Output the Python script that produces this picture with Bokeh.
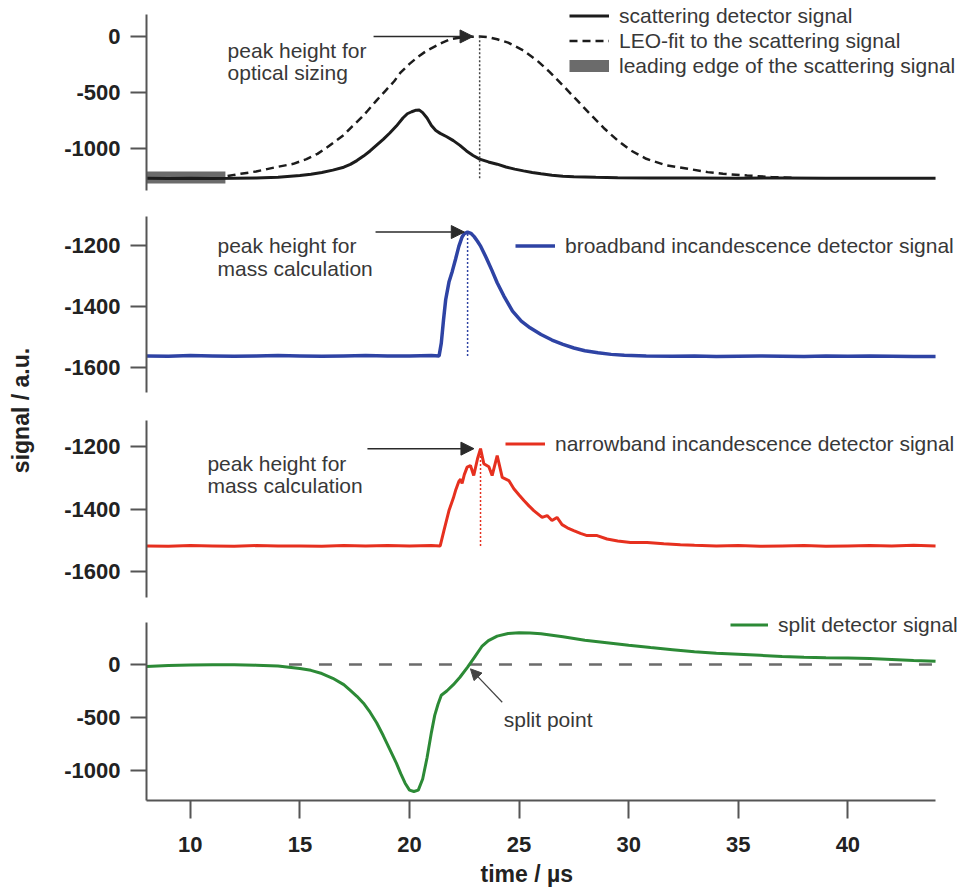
import numpy as np
from math import pi

from bokeh.plotting import figure
from bokeh.layouts import row, column
from bokeh.models import (Range1d, FixedTicker, Arrow, NormalHead, Legend, LegendItem, Label,
                          Title, PrintfTickFormatter)
from bokeh.embed import file_html
from bokeh.resources import INLINE

# ---------------------------------------------------------------- data
# time axis in microseconds, signals in arbitrary units

scatter_t = [8.0, 9.0, 10.0, 11.0, 12.0, 13.0, 14.0, 15.0, 15.5, 16.0, 16.5, 17.0, 17.3, 17.6,
             17.9, 18.2, 18.5, 18.8, 19.1, 19.4, 19.7, 19.9, 20.1, 20.3, 20.45, 20.6, 20.8,
             21.0, 21.2, 21.4, 21.7, 22.0, 22.3, 22.6, 22.9, 23.2, 23.6, 24.0, 24.4, 24.8,
             25.2, 25.6, 26.0, 26.5, 27.0, 27.5, 28.5, 29.5, 31.0, 33.0, 35.0, 37.0, 39.0,
             41.0, 43.0, 44.0]
scatter_v = [-1266, -1267, -1266, -1267, -1266, -1264, -1256, -1242, -1230, -1214, -1193,
             -1167, -1142, -1108, -1068, -1022, -970, -918, -862, -800, -728, -690, -672,
             -658, -657, -680, -728, -795, -840, -865, -895, -930, -972, -1022, -1062, -1095,
             -1120, -1140, -1165, -1184, -1200, -1214, -1226, -1238, -1247, -1252, -1257,
             -1261, -1263, -1264, -1265, -1264, -1265, -1266, -1265, -1266]

leo_t = [11.7, 12.3, 13.0, 13.5, 14.0, 14.7, 15.3, 15.8, 16.2, 16.6, 17.0, 17.4, 17.8, 18.1,
         18.5, 18.9, 19.3, 19.6, 20.0, 20.4, 20.8, 21.1, 21.5, 21.9, 22.5, 23.2, 23.6, 24.0,
         24.5, 25.2, 25.9, 26.4, 27.0, 27.65, 28.3, 28.9, 29.5, 30.1, 30.8, 31.7, 32.7, 33.6,
         34.3, 35.4, 36.5, 37.5]
leo_v = [-1245, -1226, -1205, -1184, -1163, -1137, -1095, -1048, -995, -938, -880, -800,
         -725, -661, -570, -485, -400, -320, -245, -180, -125, -95, -55, -22, -4, 0, -6, -25,
         -55, -125, -229, -318, -438, -571, -705, -824, -929, -1018, -1092, -1150, -1181,
         -1211, -1226, -1241, -1255, -1262]

edge_t = [8.0, 11.6]
edge_v = [-1258, -1258]

broad_t = [8, 9, 10, 11, 12, 13, 14, 15, 16, 17, 18, 19, 20, 21, 21.35, 21.45, 21.55, 21.65,
           21.8, 21.95, 22.1, 22.25, 22.4, 22.5, 22.65, 22.8, 22.95, 23.1, 23.25, 23.5, 23.75,
           24.0, 24.3, 24.7, 25.1, 25.5, 26.0, 26.5, 27.0, 27.5, 28.0, 28.6, 29.2, 29.8, 30.8,
           32, 33, 34, 35, 36, 37, 38, 39, 40, 41, 42, 43, 44]
broad_v = [-1562, -1563, -1561, -1562, -1563, -1562, -1561, -1562, -1563, -1562, -1561,
           -1562, -1562, -1561, -1562, -1520, -1445, -1378, -1320, -1285, -1245, -1203,
           -1172, -1161, -1156, -1160, -1171, -1186, -1203, -1240, -1280, -1322, -1365,
           -1415, -1448, -1470, -1492, -1510, -1524, -1536, -1545, -1552, -1557, -1560,
           -1562, -1563, -1562, -1564, -1563, -1562, -1563, -1564, -1562, -1563, -1562,
           -1563, -1564, -1564]

narrow_t = [8, 9, 10, 11, 12, 13, 14, 15, 16, 17, 18, 19, 20, 21, 21.4, 21.57, 21.8, 22.0,
            22.1, 22.25, 22.33, 22.4, 22.5, 22.63, 22.78, 22.93, 23.1, 23.24, 23.39, 23.62,
            23.77, 24.0, 24.23, 24.53, 24.76, 25.0, 25.22, 25.45, 25.67, 26.05, 26.28, 26.5,
            26.73, 26.96, 27.2, 27.49, 27.8, 28.1, 28.56, 29.01, 29.5, 30.08, 30.84, 31.6,
            32.36, 33, 34, 35, 36, 37, 38, 39, 40, 41, 42, 43, 44]
narrow_v = [-1518, -1519, -1517, -1518, -1519, -1517, -1518, -1518, -1519, -1517, -1518,
            -1517, -1518, -1517, -1518, -1469, -1405, -1365, -1341, -1312, -1305, -1318,
            -1290, -1266, -1261, -1293, -1240, -1207, -1255, -1265, -1293, -1229, -1299,
            -1309, -1335, -1355, -1373, -1390, -1405, -1427, -1421, -1437, -1427, -1450,
            -1460, -1469, -1478, -1485, -1485, -1496, -1502, -1507, -1507, -1511, -1514,
            -1516, -1518, -1517, -1519, -1518, -1517, -1519, -1518, -1517, -1518, -1516,
            -1518]

split_t = [8, 9, 10, 11, 12, 13, 14, 14.5, 15, 15.5, 16, 16.5, 17, 17.3, 17.6, 17.9, 18.2,
           18.5, 18.8, 19.1, 19.4, 19.6, 19.8, 20.0, 20.2, 20.4, 20.6, 20.8, 21.0, 21.15,
           21.3, 21.45, 21.7, 22.0, 22.3, 22.65, 23.0, 23.3, 23.6, 24.0, 24.5, 25.0, 25.5,
           26.0, 27.0, 28.0, 29.0, 30.0, 31.0, 32.0, 33.0, 34.0, 35.0, 36.0, 37.0, 38.0,
           39.0, 40.0, 41.0, 42.0, 43.0, 44.0]
split_v = [-19, -10, -4, -2, -3, -6, -15, -25, -38, -55, -85, -130, -190, -245, -300, -365,
           -450, -550, -670, -800, -930, -1030, -1120, -1185, -1198, -1185, -1080, -880,
           -640, -480, -375, -290, -250, -190, -120, -25, 80, 170, 225, 268, 292, 300, 298,
           290, 262, 228, 205, 182, 160, 140, 120, 107, 97, 87, 76, 68, 63, 61, 57, 48, 38,
           30]

time_ticks = [10, 15, 20, 25, 30, 35, 40]
scatter_ticks = [-1000, -500, 0]
incand_ticks = [-1600, -1400, -1200]
split_ticks = [-1000, -500, 0]

time_span = (8, 44)
zero_line_start = 14.5

# ---------------------------------------------------------------- style
FONT = "Liberation Sans"
AXIS_COLOR = "#555555"
TEXT_COLOR = "#383838"
TICK_TEXT = "#222222"
BLACK = "#1c1c1c"
EDGE_GRAY = "#6b6b6b"
BLUE = "#2e43a4"
RED = "#e6301f"
GREEN = "#2c8a36"

# the plotting frame runs a little past the time axis so the legend texts fit
x_range = Range1d(time_span[0], 45.23)


def panel(height, top, bottom, y_lo, y_hi, ticks, bounds=None, show_x=False):
    p = figure(width=928, height=height, x_range=x_range, y_range=Range1d(y_lo, y_hi),
               output_backend="svg", toolbar_location=None,
               x_axis_location="below" if show_x else None,
               min_border_left=106, min_border_right=6,
               min_border_top=top, min_border_bottom=bottom)
    p.outline_line_color = None
    p.grid.visible = False
    p.background_fill_color = "white"
    p.border_fill_color = "white"
    ax = p.yaxis[0]
    ax.ticker = FixedTicker(ticks=ticks)
    ax.formatter = PrintfTickFormatter(format="%d")
    if bounds is not None:
        ax.bounds = bounds
    ax.axis_line_width = 2
    ax.axis_line_color = AXIS_COLOR
    ax.major_tick_line_width = 2
    ax.major_tick_line_color = AXIS_COLOR
    ax.major_tick_out = 16
    ax.major_tick_in = 0
    ax.minor_tick_out = 0
    ax.minor_tick_in = 0
    ax.major_label_standoff = 10
    ax.major_label_text_font = FONT
    ax.major_label_text_font_style = "bold"
    ax.major_label_text_font_size = "22px"
    ax.major_label_text_color = TICK_TEXT
    return p


def note(p, x, y, text):
    p.add_layout(Label(x=x, y=y, text=text, text_font=FONT, text_font_size="21px",
                       text_color=TEXT_COLOR, text_baseline="middle"))


def pointer(p, x0, y0, x1, y1, size=13, width=1.5, color="#2a2a2a"):
    p.add_layout(Arrow(end=NormalHead(size=size, fill_color=color, line_color=color,
                                      line_width=1),
                       x_start=x0, y_start=y0, x_end=x1, y_end=y1,
                       line_color=color, line_width=width))


def legend(p, items, x, y, glyph_width=40):
    lg = Legend(items=items, location=(x, y), border_line_color=None,
                background_fill_alpha=0, padding=0, margin=0, spacing=0,
                glyph_width=glyph_width, glyph_height=25, label_height=25,
                label_standoff=10, label_text_font=FONT, label_text_font_size="21px",
                label_text_color=TEXT_COLOR)
    p.add_layout(lg)


# ---------------------------------------------------------------- scattering panel
p1 = panel(203, 0, 13, -1375, 321, scatter_ticks, bounds=(-1375, 196))
r_edge = p1.line(edge_t, edge_v, line_width=12, color=EDGE_GRAY)
r_leo = p1.line(leo_t, leo_v, line_width=2.5, color=BLACK, line_dash="8 5")
r_scat = p1.line(scatter_t, scatter_v, line_width=3, color=BLACK)
i_leo = int(np.argmax(leo_v))
p1.segment(x0=[leo_t[i_leo]], y0=[scatter_v[0]], x1=[leo_t[i_leo]], y1=[leo_v[i_leo]],
           line_dash="2 2", line_width=1.5, color="#444444")
pointer(p1, 18.36, leo_v[i_leo], leo_t[i_leo] - 0.3, leo_v[i_leo])
note(p1, 11.7, -125, "peak height for")
note(p1, 11.7, -321, "optical sizing")
legend(p1, [LegendItem(label="scattering detector signal", renderers=[r_scat]),
            LegendItem(label="LEO-fit to the scattering signal", renderers=[r_leo]),
            LegendItem(label="leading edge of the scattering signal", renderers=[r_edge])],
       423, 112)

# ---------------------------------------------------------------- broadband panel
p2 = panel(203, 13, 14, -1682, -1105, incand_ticks)
r_bb = p2.line(broad_t, broad_v, line_width=3.5, color=BLUE)
i_bb = int(np.argmax(broad_v))
p2.segment(x0=[broad_t[i_bb]], y0=[broad_v[0]], x1=[broad_t[i_bb]], y1=[broad_v[i_bb]],
           line_dash="2 2", line_width=1.5, color=BLUE)
pointer(p2, 18.45, broad_v[i_bb], broad_t[i_bb] - 0.15, broad_v[i_bb])
note(p2, 11.24, -1200, "peak height for")
note(p2, 11.24, -1275, "mass calculation")
legend(p2, [LegendItem(label="broadband incandescence detector signal", renderers=[r_bb])],
       369, 134)

# ---------------------------------------------------------------- narrowband panel
p3 = panel(203, 14, 12, -1683, -1117, incand_ticks)
r_nb = p3.line(narrow_t, narrow_v, line_width=3, color=RED)
i_nb = int(np.argmax(narrow_v))
p3.segment(x0=[narrow_t[i_nb]], y0=[narrow_v[0]], x1=[narrow_t[i_nb]], y1=[narrow_v[i_nb]],
           line_dash="2 2", line_width=1.5, color=RED)
pointer(p3, 18.08, narrow_v[i_nb], narrow_t[i_nb] - 0.3, narrow_v[i_nb])
note(p3, 10.78, -1254, "peak height for")
note(p3, 10.78, -1325, "mass calculation")
legend(p3, [LegendItem(label="narrowband incandescence detector signal", renderers=[r_nb])],
       359, 141)

# ---------------------------------------------------------------- split detector panel
p4 = panel(281, 0, 90, -1283, 519, split_ticks, bounds=(-1283, 396), show_x=True)
p4.segment(x0=[zero_line_start], y0=[0], x1=[split_t[-1]], y1=[0],
           line_dash="13 17", line_width=2.5, color="#6b6b6b")
r_sp = p4.line(split_t, split_v, line_width=3, color=GREEN)
pointer(p4, 24.23, -356, 22.78, -41, size=11, width=1.2, color="#444444")
note(p4, 24.3, -520, "split point")
legend(p4, [LegendItem(label="split detector signal", renderers=[r_sp])],
       584, 163, glyph_width=38)

xa = p4.xaxis[0]
xa.ticker = FixedTicker(ticks=time_ticks)
xa.bounds = time_span
xa.axis_line_width = 2
xa.axis_line_color = AXIS_COLOR
xa.major_tick_line_width = 2
xa.major_tick_line_color = AXIS_COLOR
xa.major_tick_out = 18
xa.major_tick_in = 0
xa.minor_tick_out = 0
xa.minor_tick_in = 0
xa.major_label_standoff = 18
xa.major_label_text_font = FONT
xa.major_label_text_font_style = "bold"
xa.major_label_text_font_size = "22px"
xa.major_label_text_color = TICK_TEXT

p4.add_layout(Title(text="time / µs", align="left", offset=334, standoff=8,
                    text_font=FONT, text_font_style="bold", text_font_size="23px",
                    text_color=TICK_TEXT), "below")

# ---------------------------------------------------------------- shared y title
ylab = figure(width=40, height=890, x_range=Range1d(0, 1), y_range=Range1d(0, 1),
              output_backend="svg", toolbar_location=None,
              x_axis_location=None, y_axis_location=None, min_border=0)
ylab.outline_line_color = None
ylab.grid.visible = False
ylab.add_layout(Label(x=20, y=480, x_units="screen", y_units="screen",
                      text="signal / a.u.", angle=pi / 2, text_align="center",
                      text_baseline="middle", text_font=FONT, text_font_style="bold",
                      text_font_size="23px", text_color=TICK_TEXT))

layout = row(ylab, column(p1, p2, p3, p4))
open("out.html", "w").write(file_html(layout, INLINE))
